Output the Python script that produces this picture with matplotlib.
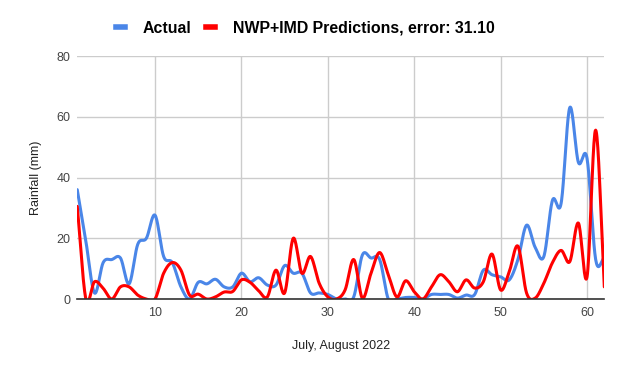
import numpy as np
import matplotlib.pyplot as plt
from matplotlib.lines import Line2D

plt.rcParams['font.family'] = ['Liberation Sans', 'DejaVu Sans']

days = list(range(1, 63))
actual = [36, 19, 2, 12, 13, 13.5, 5, 18, 20, 27.6,
          14, 12, 4, 0, 5.5, 5, 6.5, 4, 4, 8.5,
          5.7, 7, 4.6, 4.6, 11, 8.5, 8.5, 2, 2, 1.5,
          0, 0, 0.7, 14.5, 13.5, 13, 0, 0, 0.5, 0.5,
          0, 1.5, 1.5, 1.5, 0.3, 1.3, 1.5, 9.5, 8, 7.3,
          6.3, 13, 24.3, 17, 14, 32.5, 31.5, 63, 45, 46.3,
          13, 13.5]
predicted = [30.5, 0, 5.7, 3.5, 0, 4, 4, 1.3, 0, 0,
             8.5, 12, 9.5, 1.3, 1.6, 0, 0.7, 2.3, 2.5, 6.3,
             5.5, 2.7, 0.7, 9.5, 2, 20, 8.5, 14, 5.2, 0.7,
             0, 3, 13, 0.3, 8.5, 15.3, 8, 0.7, 6, 2.4,
             0, 4, 8, 5.7, 2.4, 6.3, 3.6, 5.7, 14.8, 3,
             9, 17.4, 2, 0.3, 5.2, 12, 16, 12.3, 25, 7.3,
             55.6, 4]
labels = ['Actual', 'NWP+IMD Predictions, error: 31.10']
colors = ['#4a86e8', '#ff0000']


def smooth(x, y, n=20):
    # Catmull-Rom curve through the points, like the sheet's smoothed lines
    x = np.asarray(x, float)
    y = np.asarray(y, float)
    px = np.concatenate([[2 * x[0] - x[1]], x, [2 * x[-1] - x[-2]]])
    py = np.concatenate([[2 * y[0] - y[1]], y, [2 * y[-1] - y[-2]]])
    t = np.linspace(0, 1, n, endpoint=False)
    xs, ys = [], []
    for i in range(1, len(px) - 2):
        for p, out in ((px, xs), (py, ys)):
            p0, p1, p2, p3 = p[i - 1], p[i], p[i + 1], p[i + 2]
            out.extend(0.5 * (2 * p1 + (-p0 + p2) * t
                              + (2 * p0 - 5 * p1 + 4 * p2 - p3) * t ** 2
                              + (-p0 + 3 * p1 - 3 * p2 + p3) * t ** 3))
    xs.append(x[-1])
    ys.append(y[-1])
    return np.array(xs), np.array(ys)


fig = plt.figure(figsize=(6.23, 3.71), dpi=100)
ax = fig.add_axes([0.124, 0.194, 0.846, 0.655])

for series, c in zip([actual, predicted], colors):
    sx, sy = smooth(days, series)
    ax.plot(sx, sy, color=c, linewidth=2.2, solid_capstyle='round', zorder=3)

ax.set_xlim(1, 62)
ax.set_ylim(0, 80)
ax.set_xticks([10, 20, 30, 40, 50, 60])
ax.set_yticks([0, 20, 40, 60, 80])
ax.grid(True, color='#cccccc', linewidth=1)
ax.set_axisbelow(True)
for s in ['top', 'right', 'left']:
    ax.spines[s].set_visible(False)
ax.spines['bottom'].set_color('#333333')
ax.spines['bottom'].set_linewidth(1.2)
ax.spines['bottom'].set_zorder(4)
ax.tick_params(length=0, labelsize=9, colors='#444444', pad=6)
ax.tick_params(axis='y', pad=5)
ax.set_ylabel('Rainfall (mm)', fontsize=9, color='#222222', labelpad=10)
ax.set_xlabel('July, August 2022', fontsize=9, color='#222222', labelpad=15)

handles = [Line2D([0], [0], color=c, linewidth=4) for c in colors]
fig.legend(handles, labels, loc='upper center', bbox_to_anchor=(0.49, 0.983),
           ncol=2, frameon=False, handlelength=0.6, columnspacing=0.9,
           handletextpad=1.1, prop={'weight': 'bold', 'size': 11.4})

fig.savefig('out.png', dpi=100)
